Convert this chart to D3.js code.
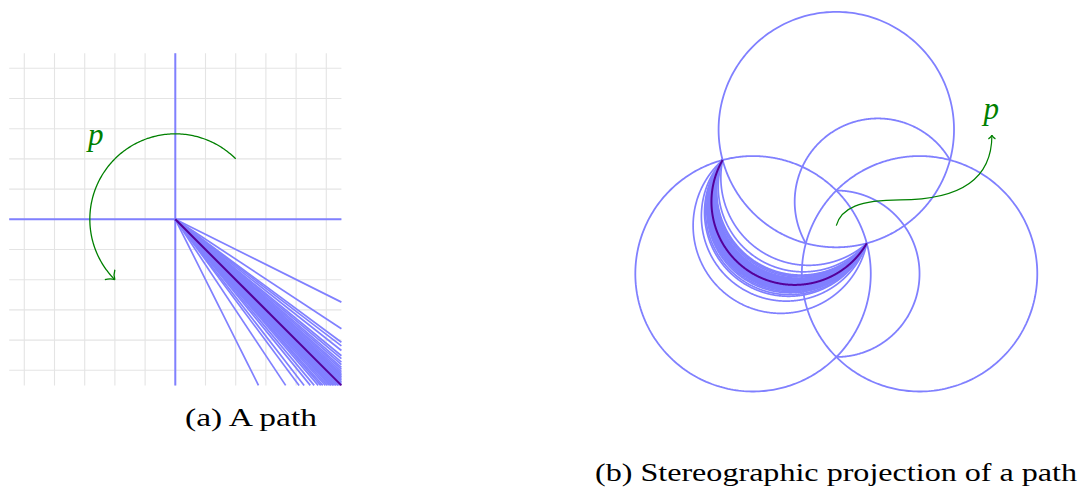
<!DOCTYPE html>
<meta charset="utf-8">
<script src="https://d3js.org/d3.v7.min.js"></script>
<style>
    body {
        margin: 0;
        background: #fff;
    }

    svg {
        display: block;
    }

    text {
        font-family: "Liberation Serif", "Times New Roman", serif;
    }
</style>
<div id="viz_area"></div>
<script>
    // (a) directions of the rays that make up the path, in degrees
    var rayAngles = [-26.5, -33.4, -36.5, -37.3, -38.3, -39.4, -40.0, -40.7, -41.2, -41.7, -42.1, -42.5,
        -42.9, -43.2, -43.5, -43.8, -44.1, -44.4, -44.7, -45.3, -45.6, -45.9, -46.2, -46.5, -46.8,
        -47.1, -47.5, -47.9, -48.4, -48.8, -49.3, -50.1, -50.9, -52.2, -53.3, -56.4, -63.4
    ]
    var mainAngle = -45
    var gridTicks = [-5, -4, -3, -2, -1, 0, 1, 2, 3, 4, 5]
    var boxExtent = [-5.5, 5.5]
    // green arrow round the origin: radius and start / end angle
    var turnArrow = [2.83, 45, 225]
    var turnLabel = [-2.63, 2.45]

    // (b) unit normals of the three coordinate circles (screen x, screen y, towards viewer)
    var normalT = [0, 0.8165, 0.5774]
    var normalL = [0.7071, -0.4082, 0.5774]
    var normalR = [-0.7071, -0.4082, 0.5774]
    // green curve in projection units: start, c1, c2, end, c1, c2, end
    var pathCurve = [
        [0, 0],
        [0.07, -0.26],
        [0.35, -0.38],
        [0.94, -0.38],
        [1.68, -0.38],
        [2.29, -0.6],
        [2.29, -1.33]
    ]
    var pathLabel = [2.28, -1.57]

    var captions = ["(a) A path", "(b) Stereographic projection of a path"]

    var W = 1080,
        H = 493
    var blue = "#8080ff",
        dark = "#55009a",
        green = "#008000",
        grey = "#e4e4e4"

    var svG = d3.select("#viz_area")
        .append("svg")
        .attr("width", W)
        .attr("height", H)

    // ---------- panel (a) ----------
    var x = d3.scaleLinear().domain(boxExtent).range([9.2, 341.4])
    var y = d3.scaleLinear().domain(boxExtent).range([385.4, 53.2])
    var gA = svG.append("g")

    gA.selectAll(".vgrid").data(gridTicks).enter().append("line")
        .attr("x1", function(d) { return x(d) })
        .attr("x2", function(d) { return x(d) })
        .attr("y1", y(boxExtent[0]))
        .attr("y2", y(boxExtent[1]))
        .attr("stroke", grey)
        .attr("stroke-width", 1.1)
    gA.selectAll(".hgrid").data(gridTicks).enter().append("line")
        .attr("y1", function(d) { return y(d) })
        .attr("y2", function(d) { return y(d) })
        .attr("x1", x(boxExtent[0]))
        .attr("x2", x(boxExtent[1]))
        .attr("stroke", grey)
        .attr("stroke-width", 1.1)

    // axes
    gA.append("line")
        .attr("x1", x(0)).attr("x2", x(0))
        .attr("y1", y(boxExtent[0])).attr("y2", y(boxExtent[1]))
        .attr("stroke", blue).attr("stroke-width", 2)
    gA.append("line")
        .attr("y1", y(0)).attr("y2", y(0))
        .attr("x1", x(boxExtent[0])).attr("x2", x(boxExtent[1]))
        .attr("stroke", blue).attr("stroke-width", 2)

    function rayEnd(a) {
        var r = a * Math.PI / 180
        var t = boxExtent[1] / Math.max(Math.abs(Math.cos(r)), Math.abs(Math.sin(r)))
        return [t * Math.cos(r), t * Math.sin(r)]
    }

    gA.selectAll(".ray").data(rayAngles).enter().append("line")
        .attr("x1", x(0)).attr("y1", y(0))
        .attr("x2", function(d) { return x(rayEnd(d)[0]) })
        .attr("y2", function(d) { return y(rayEnd(d)[1]) })
        .attr("stroke", blue)
        .attr("stroke-width", 1.7)

    gA.append("line")
        .attr("x1", x(0)).attr("y1", y(0))
        .attr("x2", x(rayEnd(mainAngle)[0]))
        .attr("y2", y(rayEnd(mainAngle)[1]))
        .attr("stroke", dark)
        .attr("stroke-width", 2)

    function arrowHead(g, tip, dir, len, col, w) {
        // dir = unit vector of travel in screen coords
        var back = Math.atan2(-dir[1], -dir[0])
        var p = d3.path()
        ;[-1, 1].forEach(function(s) {
            var a = back + s * Math.PI / 4
            var e = [tip[0] + len * Math.cos(a), tip[1] + len * Math.sin(a)]
            var a2 = back + s * Math.PI / 7
            var c = [tip[0] + len * 0.5 * Math.cos(a2), tip[1] + len * 0.5 * Math.sin(a2)]
            p.moveTo(e[0], e[1])
            p.quadraticCurveTo(c[0], c[1], tip[0], tip[1])
        })
        g.append("path").attr("d", p.toString())
            .attr("fill", "none").attr("stroke", col).attr("stroke-width", w)
    }

    var arcPts = d3.range(0, 181).map(function(i) {
        var a = (turnArrow[1] + (turnArrow[2] - turnArrow[1]) * i / 180) * Math.PI / 180
        return [x(turnArrow[0] * Math.cos(a)), y(turnArrow[0] * Math.sin(a))]
    })
    gA.append("path")
        .attr("d", d3.line()(arcPts))
        .attr("fill", "none").attr("stroke", green).attr("stroke-width", 1.3)
    var endA = turnArrow[2] * Math.PI / 180
    arrowHead(gA, arcPts[arcPts.length - 1], [-Math.sin(endA), -Math.cos(endA)], 10, green, 1.3)

    gA.append("text")
        .attr("x", x(turnLabel[0])).attr("y", y(turnLabel[1]))
        .attr("text-anchor", "middle")
        .attr("font-size", "31px")
        .attr("font-style", "italic")
        .attr("fill", green)
        .text("p")

    // ---------- panel (b) ----------
    var S = [836.3, 225.7],
        R = 67.95
    var px = d3.scaleLinear().domain([0, 1]).range([S[0], S[0] + R])
    var py = d3.scaleLinear().domain([0, 1]).range([S[1], S[1] + R])
    var gB = svG.append("g")

    function combo(a, ka, b, kb) {
        return [a[0] * ka + b[0] * kb, a[1] * ka + b[1] * kb, a[2] * ka + b[2] * kb]
    }

    function unit(v) {
        var l = Math.sqrt(v[0] * v[0] + v[1] * v[1] + v[2] * v[2])
        return [v[0] / l, v[1] / l, v[2] / l]
    }

    function project(X) {
        var k = 1 - X[2]
        return [px(X[0] / k), py(X[1] / k)]
    }

    // great circle from p0 through m, "turns" of a full circle
    function greatArc(p0, m, turns) {
        return d3.range(0, 721).map(function(i) {
            var t = i / 720 * turns * 2 * Math.PI
            return project(combo(p0, Math.cos(t), m, Math.sin(t)))
        })
    }

    var line = d3.line()

    var fullCircles = [
        [normalR, normalL],
        [normalR, normalT],
        [normalT, normalL]
    ]
    gB.selectAll(".coord").data(fullCircles).enter().append("path")
        .attr("d", function(d) { return line(greatArc(d[0], d[1], 1)) })
        .attr("fill", "none").attr("stroke", blue).attr("stroke-width", 1.8)

    var halfCircles = [
        [normalT, unit(combo(normalL, 1, normalR, -1))],
        [normalL, unit(combo(normalR, 1, normalT, -1))]
    ]
    gB.selectAll(".half").data(halfCircles).enter().append("path")
        .attr("d", function(d) { return line(greatArc(d[0], d[1], 0.5)) })
        .attr("fill", "none").attr("stroke", blue).attr("stroke-width", 1.8)

    function rayDir(a) {
        var r = a * Math.PI / 180
        return unit(combo(normalL, -Math.cos(r), normalT, -Math.sin(r)))
    }

    gB.selectAll(".ray").data(rayAngles).enter().append("path")
        .attr("d", function(d) { return line(greatArc(normalR, rayDir(d), 0.5)) })
        .attr("fill", "none").attr("stroke", blue).attr("stroke-width", 1.7)

    gB.append("path")
        .attr("d", line(greatArc(normalR, rayDir(mainAngle), 0.5)))
        .attr("fill", "none").attr("stroke", dark).attr("stroke-width", 2)

    var cp = d3.path()
    cp.moveTo(px(pathCurve[0][0]), py(pathCurve[0][1]))
    cp.bezierCurveTo(px(pathCurve[1][0]), py(pathCurve[1][1]), px(pathCurve[2][0]), py(pathCurve[2][1]), px(pathCurve[3][0]), py(pathCurve[3][1]))
    cp.bezierCurveTo(px(pathCurve[4][0]), py(pathCurve[4][1]), px(pathCurve[5][0]), py(pathCurve[5][1]), px(pathCurve[6][0]), py(pathCurve[6][1]))
    gB.append("path").attr("d", cp.toString())
        .attr("fill", "none").attr("stroke", green).attr("stroke-width", 1.2)
    arrowHead(gB, [px(pathCurve[6][0]), py(pathCurve[6][1])], [0, -1], 5, green, 1.2)

    gB.append("text")
        .attr("x", px(pathLabel[0])).attr("y", py(pathLabel[1]))
        .attr("text-anchor", "middle")
        .attr("font-size", "31px")
        .attr("font-style", "italic")
        .attr("fill", green)
        .text("p")

    // captions
    svG.append("text")
        .attr("x", 185).attr("y", 426)
        .attr("font-size", "26px")
        .attr("textLength", 132).attr("lengthAdjust", "spacingAndGlyphs")
        .text(captions[0])
    svG.append("text")
        .attr("x", 595).attr("y", 481)
        .attr("font-size", "26px")
        .attr("textLength", 482).attr("lengthAdjust", "spacingAndGlyphs")
        .text(captions[1])
</script>
